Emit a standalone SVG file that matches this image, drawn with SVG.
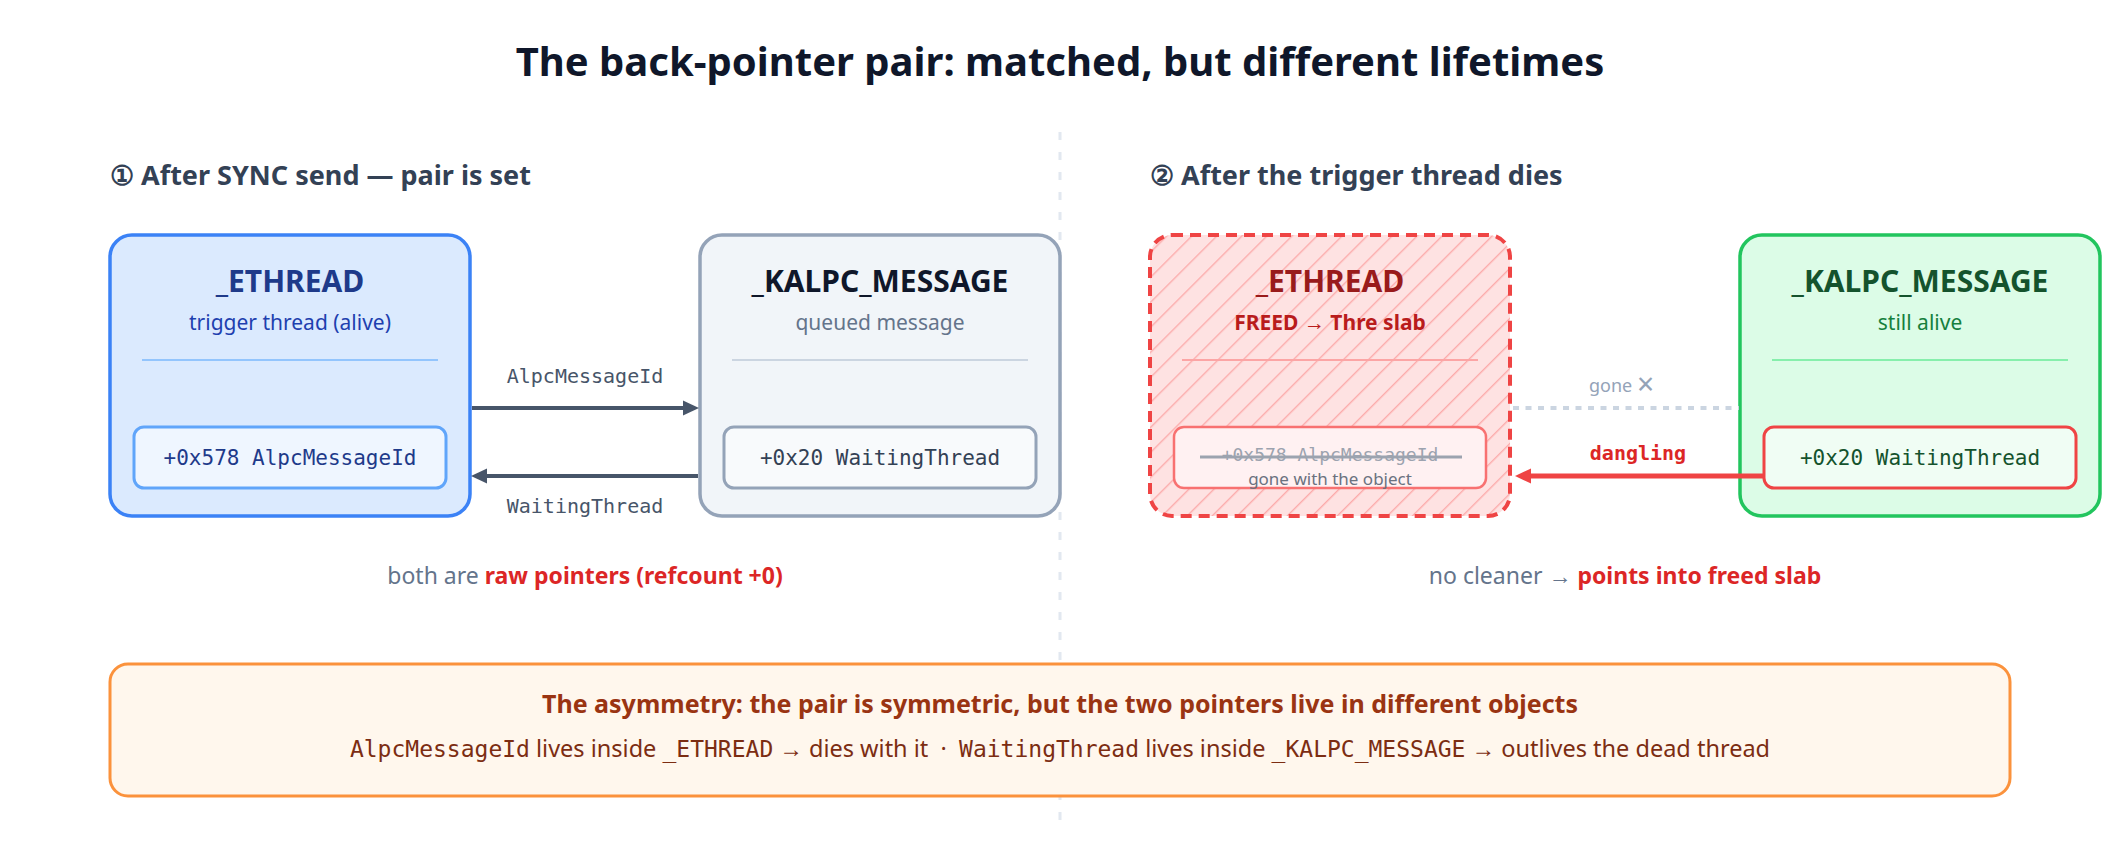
<svg xmlns="http://www.w3.org/2000/svg" width="2120" height="862" viewBox="0 0 2120 862">
<style>
.sans{font-family:"Noto Sans","Open Sans","Liberation Sans",sans-serif}
.mono{font-family:"DejaVu Sans Mono","Liberation Mono",monospace}
.title{font-size:40px;font-weight:700;fill:#0f172a}
.sec{font-size:27px;font-weight:700;fill:#334155}
.bt{font-size:30px;font-weight:700}
.sub{font-size:21px}
.field{font-size:21px}
.lbl{font-size:20px;fill:#475569}
.cap{font-size:23px}
.nm{font-size:23px}
</style>
<defs>
<pattern id="hatch" patternUnits="userSpaceOnUse" width="17.7" height="17.7" patternTransform="rotate(45)">
<line x1="0" y1="0" x2="0" y2="17.7" stroke="#fcabab" stroke-width="2.8"/>
</pattern>
<marker id="ah" markerUnits="userSpaceOnUse" markerWidth="16" markerHeight="16" refX="0" refY="8" orient="auto">
<path d="M0,0.5 L16,8 L0,15.5 z" fill="#475569"/>
</marker>
<marker id="ahr" markerUnits="userSpaceOnUse" markerWidth="16" markerHeight="16" refX="0" refY="8" orient="auto">
<path d="M0,0.5 L16,8 L0,15.5 z" fill="#ef4444"/>
</marker>
</defs>
<rect width="2120" height="862" fill="#ffffff"/>
<text class="sans title" x="1060" y="76" text-anchor="middle">The back-pointer pair: matched, but different lifetimes</text>
<line x1="1060" y1="132" x2="1060" y2="820" stroke="#e2e8f0" stroke-width="3" stroke-dasharray="8 12"/>
<text class="sans sec" x="110" y="185">① After SYNC send — pair is set</text>
<text class="sans sec" x="1150" y="185">② After the trigger thread dies</text>

<g id="ethread-alive">
<rect x="110" y="235" width="360" height="281" rx="22" fill="#dbeafe" stroke="#3b82f6" stroke-width="3.5"/>
<text class="sans bt" x="290" y="292" text-anchor="middle" fill="#1e3a8a">_ETHREAD</text>
<text class="sans sub" x="290" y="330" text-anchor="middle" fill="#1e40af">trigger thread (alive)</text>
<line x1="142" y1="360" x2="438" y2="360" stroke="#93c5fd" stroke-width="2"/>
<rect x="134" y="427" width="312" height="61" rx="10" fill="#eff6ff" stroke="#60a5fa" stroke-width="3"/>
<text class="mono field" x="290" y="465" text-anchor="middle" fill="#1e3a8a">+0x578 AlpcMessageId</text>
</g>

<g id="kalpc-queued">
<rect x="700" y="235" width="360" height="281" rx="22" fill="#f1f5f9" stroke="#94a3b8" stroke-width="3.5"/>
<text class="sans bt" x="880" y="292" text-anchor="middle" fill="#0f172a">_KALPC_MESSAGE</text>
<text class="sans sub" x="880" y="330" text-anchor="middle" fill="#64748b">queued message</text>
<line x1="732" y1="360" x2="1028" y2="360" stroke="#cbd5e1" stroke-width="2"/>
<rect x="724" y="427" width="312" height="61" rx="10" fill="#f8fafc" stroke="#94a3b8" stroke-width="3"/>
<text class="mono field" x="880" y="465" text-anchor="middle" fill="#334155">+0x20 WaitingThread</text>
</g>

<g id="ethread-freed">
<rect x="1150" y="235" width="360" height="281" rx="22" fill="#fee2e2"/>
<rect x="1150" y="235" width="360" height="281" rx="22" fill="url(#hatch)" stroke="#ef4444" stroke-width="4" stroke-dasharray="11 7"/>
<text class="sans bt" x="1330" y="292" text-anchor="middle" fill="#991b1b">_ETHREAD</text>
<text class="sans sub" x="1330" y="330" text-anchor="middle" fill="#b91c1c" font-weight="700">FREED → Thre slab</text>
<line x1="1182" y1="360" x2="1478" y2="360" stroke="#fca5a5" stroke-width="2"/>
<rect x="1174" y="427" width="312" height="61" rx="10" fill="#fff1f2" stroke="#f87171" stroke-width="2.5"/>
<text class="mono" x="1330" y="461" text-anchor="middle" fill="#9ca3af" font-size="18">+0x578 AlpcMessageId</text>
<line x1="1200" y1="457" x2="1462" y2="457" stroke="#9ca3af" stroke-width="3"/>
<text class="sans" x="1330" y="485" text-anchor="middle" fill="#6b7280" font-size="17">gone with the object</text>
</g>

<g id="kalpc-alive">
<rect x="1740" y="235" width="360" height="281" rx="22" fill="#dcfce7" stroke="#22c55e" stroke-width="3.5"/>
<text class="sans bt" x="1920" y="292" text-anchor="middle" fill="#14532d">_KALPC_MESSAGE</text>
<text class="sans sub" x="1920" y="330" text-anchor="middle" fill="#15803d">still alive</text>
<line x1="1772" y1="360" x2="2068" y2="360" stroke="#86efac" stroke-width="2"/>
<rect x="1764" y="427" width="312" height="61" rx="10" fill="#f0fdf4" stroke="#ef4444" stroke-width="3"/>
<text class="mono field" x="1920" y="465" text-anchor="middle" fill="#14532d">+0x20 WaitingThread</text>
</g>

<g id="connectors">
<line x1="472" y1="408" x2="683" y2="408" stroke="#475569" stroke-width="4" marker-end="url(#ah)"/>
<text class="mono lbl" x="585" y="383" text-anchor="middle">AlpcMessageId</text>
<line x1="698" y1="476" x2="487" y2="476" stroke="#475569" stroke-width="4" marker-end="url(#ah)"/>
<text class="mono lbl" x="585" y="513" text-anchor="middle">WaitingThread</text>
<line x1="1513" y1="408" x2="1739" y2="408" stroke="#cbd5e1" stroke-width="4" stroke-dasharray="6 6.5"/>
<text class="sans" x="1589" y="392" fill="#94a3b8" font-size="18">gone <tspan font-size="30" dy="3">×</tspan></text>
<line x1="1764" y1="476" x2="1531" y2="476" stroke="#ef4444" stroke-width="5" marker-end="url(#ahr)"/>
<text class="mono" x="1638" y="460" text-anchor="middle" fill="#dc2626" font-size="20" font-weight="700">dangling</text>
</g>

<text class="sans cap" x="585" y="584" text-anchor="middle" fill="#64748b">both are <tspan fill="#dc2626" font-weight="700">raw pointers (refcount +0)</tspan></text>
<text class="sans cap" x="1625" y="584" text-anchor="middle" fill="#64748b">no cleaner → <tspan fill="#dc2626" font-weight="700">points into freed slab</tspan></text>

<g id="note">
<rect x="110" y="664" width="1900" height="132" rx="18" fill="#fff7ed" stroke="#fb923c" stroke-width="3"/>
<text class="sans" x="1060" y="713" text-anchor="middle" fill="#9a3412" font-size="25" font-weight="700">The asymmetry: the pair is symmetric, but the two pointers live in different objects</text>
<text class="sans" x="1060" y="757" text-anchor="middle" fill="#7c2d12" font-size="23.5" xml:space="preserve"><tspan class="mono nm">AlpcMessageId</tspan> lives inside <tspan class="mono nm">_ETHREAD</tspan> → dies with it  ·  <tspan class="mono nm">WaitingThread</tspan> lives inside <tspan class="mono nm">_KALPC_MESSAGE</tspan> → outlives the dead thread</text>
</g>
</svg>
